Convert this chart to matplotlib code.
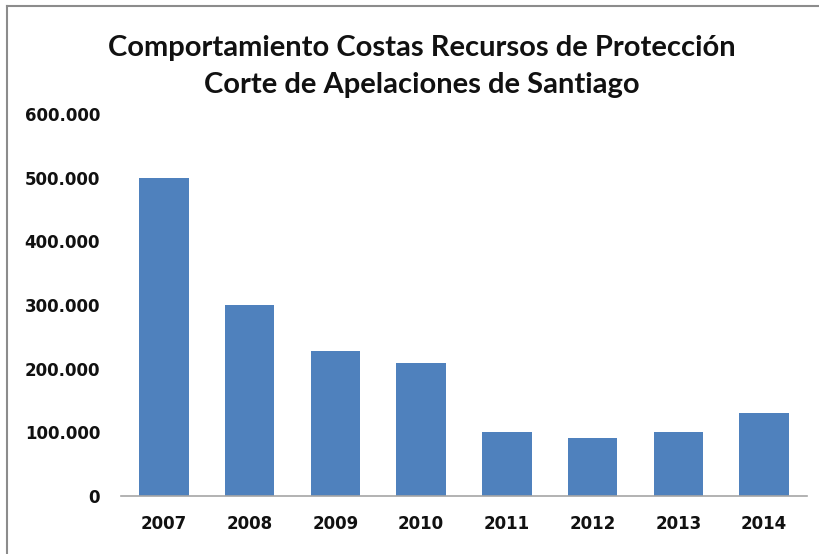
import matplotlib
matplotlib.use("Agg")
import matplotlib.pyplot as plt
from matplotlib.lines import Line2D
from matplotlib.ticker import FuncFormatter

# Datos
years = ["2007", "2008", "2009", "2010", "2011", "2012", "2013", "2014"]
costas = [500000, 300000, 227000, 209000, 100000, 91000, 100000, 130000]
y_ticks = [0, 100000, 200000, 300000, 400000, 500000, 600000]

title = "Comportamiento Costas Recursos de Protección\nCorte de Apelaciones de Santiago"


def miles(v, _pos):
    # formato chileno: punto como separador de miles
    return f"{int(v):,}".replace(",", ".")


fig = plt.figure(figsize=(8.2, 5.54), dpi=100)
ax = fig.add_axes([121 / 820, 58 / 554, 686 / 820, 382 / 554])

ax.bar(range(len(years)), costas, width=0.58, color="#4F81BD")

ax.set_xlim(-0.5, len(years) - 0.5)
ax.set_ylim(0, 600000)
ax.set_yticks(y_ticks)
ax.yaxis.set_major_formatter(FuncFormatter(miles))
ax.set_xticks(range(len(years)))
ax.set_xticklabels(years)

for side in ["top", "right", "left"]:
    ax.spines[side].set_visible(False)
ax.spines["bottom"].set_color("#A6A6A6")
ax.spines["bottom"].set_linewidth(1.2)
ax.tick_params(axis="both", length=0, labelsize=12, colors="#111111")
ax.tick_params(axis="y", pad=15)
ax.tick_params(axis="x", pad=14)
for lbl in ax.get_xticklabels() + ax.get_yticklabels():
    lbl.set_fontweight("bold")
    lbl.set_family("DejaVu Sans")

fig.text(0.514, 1 - 66.5 / 554, title, ha="center", va="center",
         fontsize=21, fontweight="bold", family="Lato",
         linespacing=1.5, color="#111111")

# marco gris arriba e izquierda
fig.add_artist(Line2D([7 / 820, 7 / 820], [0, 1 - 6 / 554],
                      transform=fig.transFigure, color="#8C8C8C", lw=1.5))
fig.add_artist(Line2D([7 / 820, 1], [1 - 6 / 554, 1 - 6 / 554],
                      transform=fig.transFigure, color="#8C8C8C", lw=1.5))

fig.savefig("out.png", dpi=100)
